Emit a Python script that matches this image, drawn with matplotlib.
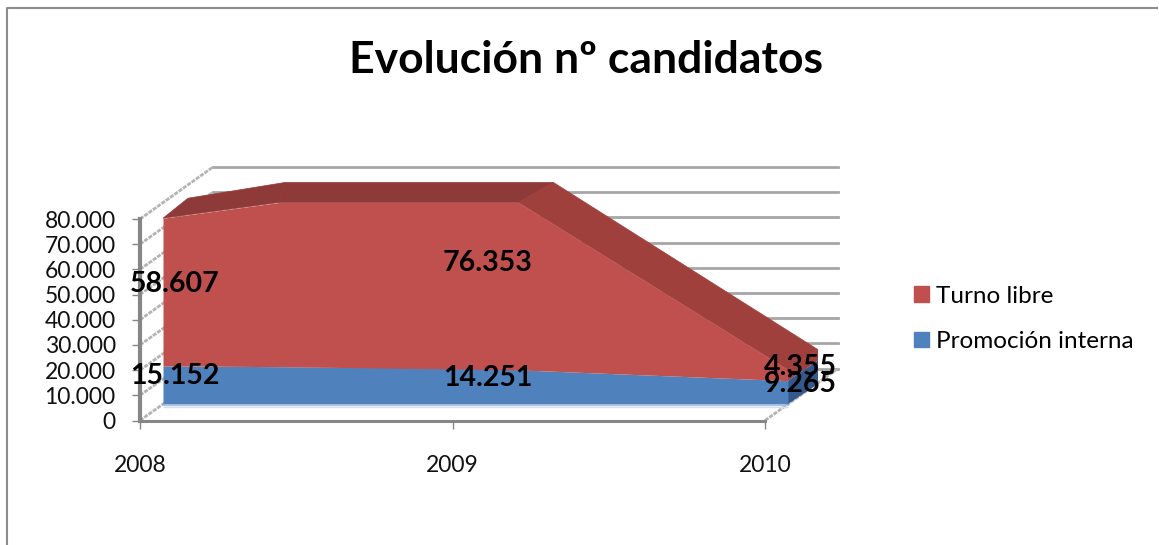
import numpy as np
import matplotlib
matplotlib.use('Agg')
import matplotlib.pyplot as plt
from matplotlib.lines import Line2D
from matplotlib.patches import Patch

plt.rcParams['font.family'] = ['Lato', 'DejaVu Sans']

years = [2008, 2009, 2010]
promocion = [15152, 14251, 9265]
libre = [58607, 76353, 4355]
y_ticks = [0, 10000, 20000, 30000, 40000, 50000, 60000, 70000, 80000]
titulo = 'Evolución nº candidatos'
etiquetas = ['Turno libre', 'Promoción interna']

W, H = 1159, 545
PX_YEAR = 312.5      # pixels por año
PX_VAL = 201.5 / 80000

AZUL = '#4f81bd'
ROJO = '#c0504d'
GRIS = '#868686'


def depth(x, y, dx, dy):
    # desplaza en pixeles para simular la profundidad 3D
    return np.asarray(x) + np.asarray(dx) / PX_YEAR, np.asarray(y) + np.asarray(dy) / PX_VAL


fig = plt.figure(figsize=(W / 100, H / 100), dpi=100)
ax = fig.add_axes([140 / W, (H - 420.5) / H, 625 / W, 201.5 / H])
ax.set_xlim(2008, 2010)
ax.set_ylim(0, 80000)
ax.patch.set_visible(False)

# marco exterior
fig.add_artist(Line2D([6.5 / W, 6.5 / W, 1 - 2 / W], [0, 1 - 7.5 / H, 1 - 7.5 / H], color='#8c8c8c', lw=1.5))

# paredes
for t in y_ticks:
    bx, by = depth([2008, 2010], [t, t], 73, 52)
    ax.plot(bx, by, color='#a6a6a6', lw=2, clip_on=False, zorder=1)
    ex, ey = depth(2008, t, 73, 52)
    ax.plot([2008, ex], [t, ey], color='#b4b4b4', lw=2, ls=(0, (1.5, 0.4)), clip_on=False, zorder=1)
ex, ey = depth(2010, 0, 73, 52)
ax.plot([2010, ex], [0, ey], color='#b4b4b4', lw=2, ls=(0, (1.5, 0.4)), clip_on=False, zorder=1)

# el área se corta en el máximo del eje
total = np.array(promocion) + np.array(libre)
ymax = y_ticks[-1]
cut1 = years[0] + (ymax - total[0]) / (total[1] - total[0])
cut2 = years[1] + (total[1] - ymax) / (total[1] - total[2])
top_x = np.array([years[0], cut1, cut2, years[2]])
top_y = np.array([total[0], ymax, ymax, total[2]])
FX, FY = 23, 16.5    # frente del área
BX = np.array([48, 29, 58, 53])    # fondo del área, con la perspectiva de Excel
BY = 36.5

colores = ['#8e3a38', '#8e3a38', '#a0403d']
for i in range(3):
    fx, fy = depth(top_x[i:i + 2], top_y[i:i + 2], FX, FY)
    bx, by = depth(top_x[i:i + 2], top_y[i:i + 2], BX[i:i + 2], BY)
    ax.fill(np.r_[fx, bx[::-1]], np.r_[fy, by[::-1]], color=colores[i], lw=0.5, clip_on=False, zorder=2)

# caras laterales en 2010
x0, y0 = depth([years[2], years[2]], [promocion[2], total[2]], FX, FY)
x1, y1 = depth([years[2], years[2]], [promocion[2], total[2]], BX[3], BY)
ax.fill([x0[0], x0[1], x1[1], x1[0]], [y0[0], y0[1], y1[1], y1[0]], color='#a0403d', lw=0, clip_on=False, zorder=2)
x0, y0 = depth([years[2], years[2]], [0, promocion[2]], FX, FY)
x1, y1 = depth([years[2], years[2]], [0, promocion[2]], BX[3], BY)
ax.fill([x0[0], x0[1], x1[1], x1[0]], [y0[0], y0[1], y1[1], y1[0]], color='#33598c', lw=0, clip_on=False, zorder=2)

# caras frontales
fx, fy = depth(years, promocion, FX, FY)
bx, base = depth(years, [0, 0, 0], FX, FY)
ax.fill_between(fx, base, fy, color=AZUL, lw=0, clip_on=False, zorder=3)
tx, ty = depth(top_x, top_y, FX, FY)
mid_y = np.interp(tx, fx, fy)
ax.fill_between(tx, mid_y, ty, color=ROJO, lw=0, clip_on=False, zorder=3)
ax.plot(fx, base - 1 / PX_VAL, color='#a9c1de', lw=1, solid_capstyle='butt', clip_on=False, zorder=3)
ax.plot(fx, base - 2.5 / PX_VAL, color='#d5e1f0', lw=1, solid_capstyle='butt', clip_on=False, zorder=3)

# etiquetas de datos
base_y = np.zeros(3)
for serie in [promocion, libre]:
    for x, b, v in zip(years, base_y, serie):
        txt = f'{v:,}'.replace(',', '.')
        ax.annotate(txt, (x, b + v / 2), xytext=(35, 25), textcoords='offset pixels', ha='center', va='center',
                    fontsize=20.5, fontweight='bold', color='black', annotation_clip=False, zorder=5)
    base_y = base_y + np.array(serie)

# ejes
ax.set_xticks(years)
ax.set_xticklabels(years)
ax.set_yticks(y_ticks)
ax.set_yticklabels([f'{t:,}'.replace(',', '.') for t in y_ticks])
for s in ['top', 'right']:
    ax.spines[s].set_visible(False)
ax.spines['left'].set_linewidth(3)
ax.spines['bottom'].set_linewidth(2.2)
ax.spines['left'].set_color(GRIS)
ax.spines['bottom'].set_color(GRIS)
ax.spines['left'].set_zorder(4)
ax.tick_params(axis='x', length=6, width=1, color=GRIS, pad=19, labelsize=16.5, labelcolor='#111111')
ax.tick_params(axis='y', length=6, width=1, color=GRIS, pad=11.5, labelsize=16.5, labelcolor='#111111')

fig.text(586 / W, 1 - 60 / H, titulo, ha='center', va='center', fontsize=32, fontweight='bold', color='black')

handles = [Patch(color=ROJO, label=etiquetas[0]), Patch(color=AZUL, label=etiquetas[1])]
fig.legend(handles=handles, loc='center left', bbox_to_anchor=(914 / W, 1 - 319 / H), frameon=False,
           fontsize=17.5, handlelength=0.62, handleheight=0.62, handletextpad=0.29, labelspacing=1.0,
           borderpad=0, borderaxespad=0)

plt.savefig('out.png', dpi=100)
